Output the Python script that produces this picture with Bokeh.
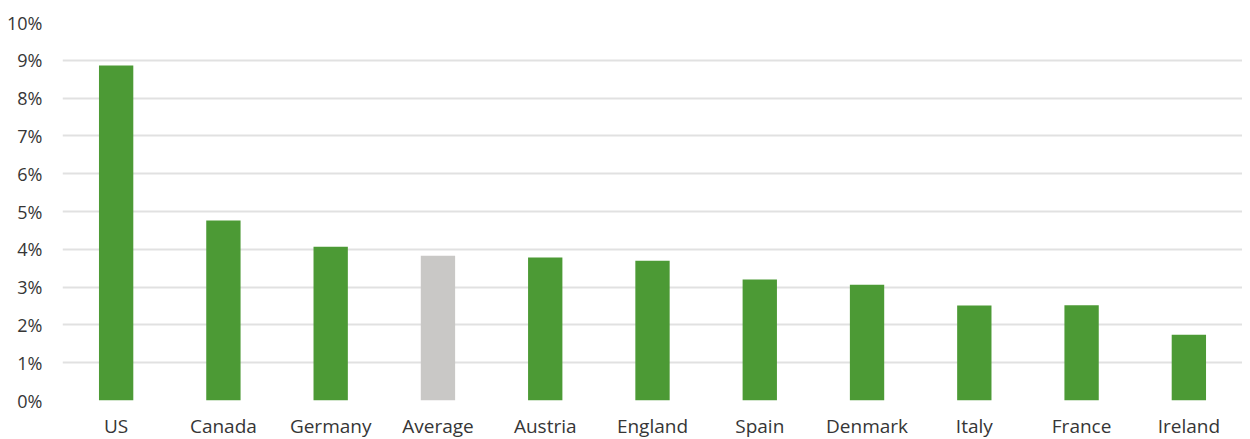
from bokeh.plotting import figure
from bokeh.models import Range1d, FixedTicker, PrintfTickFormatter
from bokeh.embed import file_html
from bokeh.resources import INLINE

categories = ["US", "Canada", "Germany", "Average", "Austria", "England",
              "Spain", "Denmark", "Italy", "France", "Ireland"]
values = [8.86, 4.76, 4.07, 3.83, 3.78, 3.70, 3.20, 3.06, 2.51, 2.52, 1.74]
y_ticks = list(range(0, 11))

GREEN = "#4c9a35"
GRAY = "#c9c8c6"
colors = [GRAY if c == "Average" else GREEN for c in categories]

p = figure(x_range=categories, y_range=Range1d(0, 10), width=1242, height=441,
           output_backend="svg", toolbar_location=None,
           min_border_left=62, min_border_right=0, min_border_top=22,
           min_border_bottom=41)

p.vbar(x=categories, top=values, width=0.32, fill_color=colors, line_color=None)

p.outline_line_color = None
p.background_fill_color = "white"
p.border_fill_color = "white"
p.xgrid.grid_line_color = None
p.ygrid.grid_line_color = "#e1e1e1"
p.ygrid.grid_line_width = 2

p.yaxis.ticker = FixedTicker(ticks=y_ticks)
p.yaxis.formatter = PrintfTickFormatter(format="%d%%")
for ax in (p.xaxis[0], p.yaxis[0]):
    ax.axis_line_color = None
    ax.major_tick_line_color = None
    ax.minor_tick_line_color = None
    ax.major_tick_out = 0
    ax.major_tick_in = 0
    ax.minor_tick_out = 0
    ax.minor_tick_in = 0
    ax.major_label_text_font = "Open Sans"
    ax.major_label_text_font_size = "18px"
    ax.major_label_text_color = "#363636"
p.xaxis.major_label_text_font_size = "19px"
p.yaxis.major_label_standoff = 20
p.xaxis.major_label_standoff = 12

open("out.html", "w").write(file_html(p, INLINE))
